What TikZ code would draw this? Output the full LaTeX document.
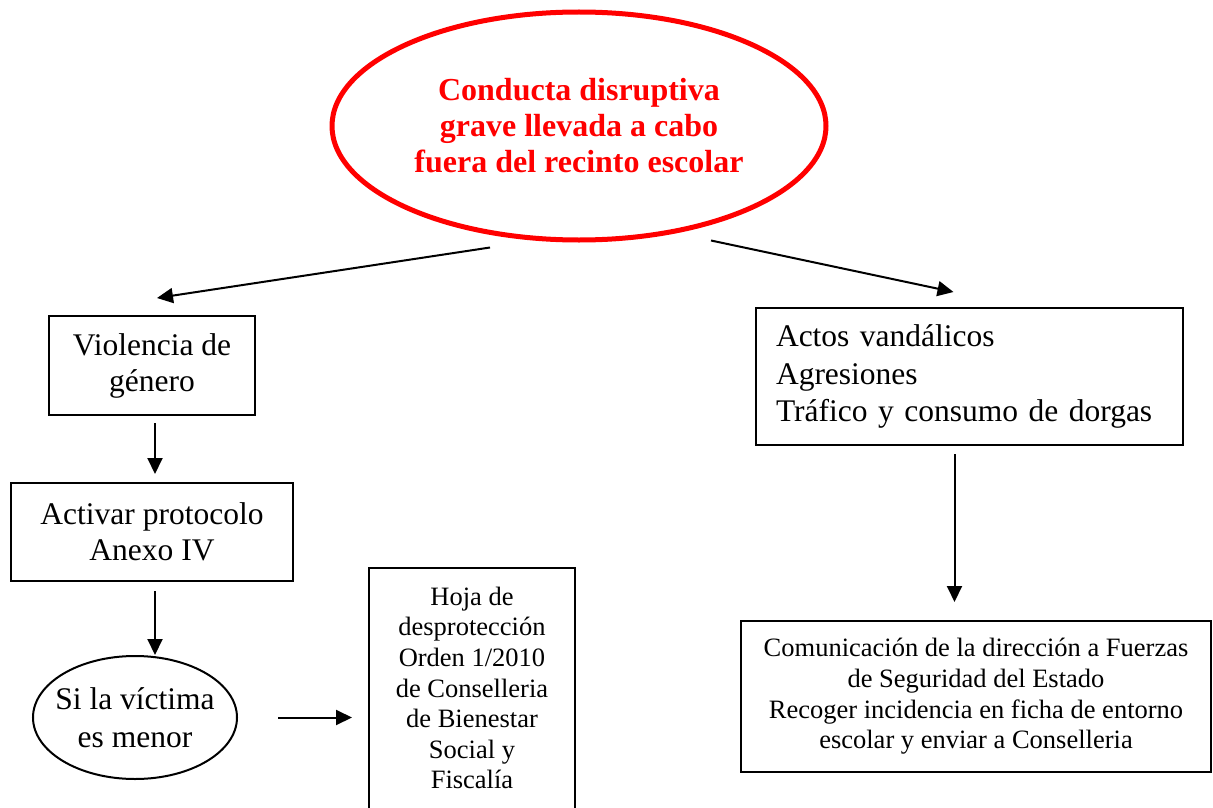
\documentclass[tikz,border=0pt]{standalone}
\usepackage{fontspec}
\setmainfont{Liberation Serif}
\usetikzlibrary{arrows.meta,shapes.geometric}

\begin{document}
\begin{tikzpicture}[x=1pt,y=-1pt,->,>={Triangle[length=16pt,width=15pt]},line width=2pt,
      every edge/.style={draw,line width=2pt},
      box/.style={rectangle,draw,align=center,inner sep=0pt,
        font=\fontsize{31.5}{36}\selectfont},
      small/.style={font=\fontsize{26.5}{30.6}\selectfont},
      main/.style={ellipse,draw,align=center,inner ysep=0pt,inner xsep=-25pt,
        font=\fontsize{31.5}{38}\selectfont},
      hot/.style={ellipse,draw=red,line width=5pt,text=red,align=center,inner sep=0pt,
        font=\bfseries\fontsize{32}{36}\selectfont}]
    \useasboundingbox (0,0) rectangle (1213,808);

    \node[hot, minimum width=494pt, minimum height=228pt] (cond) at (579,126)
      {Conducta disruptiva\\grave llevada a cabo\\fuera del recinto escolar};
    \node[box, minimum width=206pt, minimum height=99pt] (viol) at (152,365.5)
      {Violencia de\\género};
    \node[box, minimum width=282pt, minimum height=98pt] (act) at (152,532)
      {Activar protocolo\\Anexo IV};
    \node[main, minimum width=204pt, minimum height=123pt] (men) at (135,717.5)
      {Si la víctima\\es menor};
    \node[box, small, anchor=north, minimum width=206pt, inner ysep=19pt,
          text depth=60pt] (hoja) at (472,567)
      {Hoja de\\desprotección\\Orden 1/2010\\de Conselleria\\de Bienestar\\Social y\\Fiscalía};
    \node[box, align=left, text width=387pt, inner xsep=20pt, minimum height=137pt,
          font=\fontsize{31.5}{37.5}\selectfont] (actos) at (969.5,376.5)
      {Actos vandálicos\\Agresiones\\Tráfico y consumo de dorgas};
    \node[box, small, minimum width=470pt, minimum height=151pt] (com) at (976,696.5)
      {Comunicación de la dirección a Fuerzas\\de Seguridad del Estado\\Recoger incidencia en ficha de entorno\\escolar y enviar a Conselleria};

    \coordinate (l0) at ([shift={(-89,5)}]cond.south);
    \coordinate (l1) at ([shift={(5,-17)}]viol.north);
    \coordinate (r0) at ([shift={(132,-2)}]cond.south);
    \coordinate (r1) at ([shift={(-16,-15)}]actos.north);
    \coordinate (v0) at ([xshift=3pt]viol.south);
    \coordinate (v1) at ([xshift=3pt]act.south);
    \coordinate (a0) at ([xshift=-15pt]actos.south);

    \path (l0) edge (l1)
          (r0) edge (r1)
          (v0) edge [shorten <=7pt, shorten >=8pt] (v0 |- act.north)
          (v1) edge [shorten <=9pt] (v1 |- men.north)
          (men.east) edge [shorten <=40pt, shorten >=16pt] (men.east -| hoja.west)
          (a0) edge [shorten <=8pt, shorten >=18pt] (a0 |- com.north);
\end{tikzpicture}
\end{document}
